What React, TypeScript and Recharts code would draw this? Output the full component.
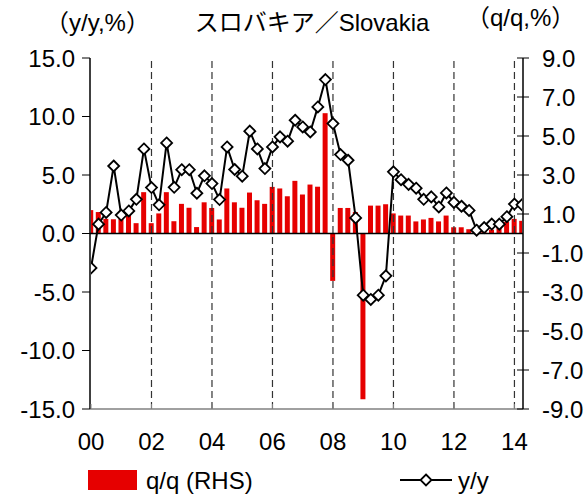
import { Bar, ComposedChart, Line, ReferenceLine, XAxis, YAxis } from "recharts";

// quarterly, 2000Q1 .. 2014Q2
const yearLabels = ["00", "02", "04", "06", "08", "10", "12", "14"];

const qoq = [
  1.2, 1.1, 0.75, 0.73, 0.75, 1.0, 0.53, 2.12, 0.53, 1.03, 2.12, 0.63, 1.52,
  1.32, 0.33, 1.6, 1.31, 0.72, 2.31, 1.6, 1.32, 2.1, 1.71, 1.52, 2.39, 2.31,
  1.91, 2.7, 2.0, 2.51, 2.4, 6.17, -2.43, 1.31, 1.31, 1.1, -8.5, 1.43, 1.43,
  1.5, 1.03, 0.92, 0.92, 0.62, 0.72, 0.8, 0.62, 0.92, 0.32, 0.32, 0.22, 0.05,
  0.15, 0.2, 0.38, 0.6, 0.75, 0.65,
];

const yoy = [
  -2.94, 0.8, 1.8, 5.77, 1.58, 1.93, 2.92, 7.23, 3.93, 2.45, 7.74, 3.95, 5.45,
  5.45, 3.44, 4.93, 4.27, 2.9, 7.4, 5.47, 4.9, 8.75, 7.23, 5.55, 7.4, 8.26,
  7.89, 9.68, 9.11, 8.68, 10.82, 13.16, 9.4, 6.75, 6.26, 1.33, -5.27, -5.64,
  -5.27, -3.62, 5.27, 4.6, 4.2, 3.87, 2.92, 3.13, 2.27, 3.47, 2.66, 2.33, 1.97,
  0.28, 0.51, 0.81, 0.8, 1.44, 2.52, 2.45,
];

const leftTicks = [-15, -10, -5, 0, 5, 10, 15];
const rightTicks = [-9, -7, -5, -3, -1, 1, 3, 5, 7, 9];

const data = qoq.map((v, i) => ({ idx: i, qoq: v, yoy: yoy[i] }));
const yearTicks = yearLabels.map((_, i) => i * 8);

const FONT = "'Liberation Sans', Arial, 'Noto Sans CJK JP', sans-serif";
const RED = "#e60000";

const BottomTick = (props: any) => {
  const { x, y, payload } = props;
  return (
    <g>
      <line x1={x} x2={x} y1={y} y2={y - 5} stroke="#808080" />
      <text x={x} y={y + 41} textAnchor="middle" fontSize={24} fill="#000" fontFamily={FONT}>
        {yearLabels[payload.value / 8]}
      </text>
    </g>
  );
};

const TopTick = (props: any) => {
  const { x, y } = props;
  return <line x1={x} x2={x} y1={y} y2={y + 5} stroke="#808080" />;
};

const LeftTick = (props: any) => {
  const { x, y, payload } = props;
  return (
    <g>
      <line x1={x - 8} x2={x} y1={y} y2={y} stroke="#000" />
      <text x={x - 15} y={y + 8.5} textAnchor="end" fontSize={24} fill="#000" fontFamily={FONT}>
        {payload.value.toFixed(1)}
      </text>
    </g>
  );
};

const RightTick = (props: any) => {
  const { x, y, payload } = props;
  return (
    <g>
      <line x1={x - 6} x2={x + 6} y1={y} y2={y} stroke="#000" />
      <text x={x + 19} y={y + 8.5} textAnchor="start" fontSize={24} fill="#000" fontFamily={FONT}>
        {payload.value.toFixed(1)}
      </text>
    </g>
  );
};

const Diamond = (props: any) => {
  const { cx, cy, index } = props;
  if (cx == null || cy == null) return null;
  const r = 5.5;
  return (
    <polygon
      key={`d-${index}`}
      points={`${cx},${cy - r} ${cx + r},${cy} ${cx},${cy + r} ${cx - r},${cy}`}
      fill="#fff"
      stroke="#000"
      strokeWidth={1.8}
    />
  );
};

export default function App() {
  return (
    <div style={{ position: "absolute", left: 0, top: 0, width: 587, height: 495, background: "#fff" }}>
      <ComposedChart width={587} height={495} data={data} margin={{ top: 58, right: 0, bottom: 0, left: 0 }}>
        <XAxis
          xAxisId="b"
          dataKey="idx"
          type="number"
          domain={[0, 57]}
          ticks={yearTicks}
          interval={0}
          allowDataOverflow
          padding={{ left: 1, right: 1 }}
          height={86}
          axisLine={{ stroke: "#808080", strokeWidth: 1.5 }}
          tickLine={false}
          tickSize={0}
          tickMargin={0}
          tick={<BottomTick />}
        />
        <XAxis
          xAxisId="t"
          orientation="top"
          dataKey="idx"
          type="number"
          domain={[0, 57]}
          ticks={yearTicks}
          interval={0}
          padding={{ left: 1, right: 1 }}
          height={0}
          axisLine={{ stroke: "#808080", strokeWidth: 1.5 }}
          tickLine={false}
          tickSize={0}
          tickMargin={0}
          tick={<TopTick />}
        />
        <YAxis
          yAxisId="l"
          orientation="left"
          width={90}
          domain={[-15, 15]}
          ticks={leftTicks}
          interval={0}
          axisLine={{ stroke: "#000", strokeWidth: 1.5 }}
          tickLine={false}
          tickSize={0}
          tickMargin={0}
          tick={<LeftTick />}
        />
        <YAxis
          yAxisId="r"
          orientation="right"
          width={64}
          domain={[-9, 9]}
          ticks={rightTicks}
          interval={0}
          axisLine={{ stroke: "#000", strokeWidth: 1.5 }}
          tickLine={false}
          tickSize={0}
          tickMargin={0}
          tick={<RightTick />}
        />
        {yearTicks.slice(1).map((t) => (
          <ReferenceLine
            key={`v-${t}`}
            xAxisId="b"
            yAxisId="l"
            x={t}
            stroke="#333"
            strokeWidth={1.2}
            strokeDasharray="7 4"
          />
        ))}
        <Bar
          xAxisId="b"
          yAxisId="r"
          dataKey="qoq"
          fill={RED}
          barSize={5}
          isAnimationActive={false}
        />
        <ReferenceLine xAxisId="b" yAxisId="l" y={0} stroke="#000" strokeWidth={1.5} />
        <Line
          xAxisId="b"
          yAxisId="l"
          type="linear"
          dataKey="yoy"
          stroke="#000"
          strokeWidth={2}
          dot={Diamond}
          activeDot={false}
          isAnimationActive={false}
        />
      </ComposedChart>
      <svg
        width={587}
        height={495}
        style={{ position: "absolute", left: 0, top: 0, pointerEvents: "none" }}
        fontFamily={FONT}
      >
        <text x={45} y={31} fontSize={24} fill="#000">（y/y,%）</text>
        <text x={312} y={31} fontSize={24} fill="#000" textAnchor="middle">スロバキア／Slovakia</text>
        <text x={466} y={26} fontSize={24} fill="#000">（q/q,%）</text>
        <rect x={88} y={470} width={49} height={20} fill={RED} />
        <text x={146} y={489} fontSize={24} fill="#000">q/q (RHS)</text>
        <line x1={400} x2={452} y1={480} y2={480} stroke="#000" strokeWidth={2} />
        <polygon points="426,474.5 431.5,480 426,485.5 420.5,480" fill="#fff" stroke="#000" strokeWidth={1.8} />
        <text x={458} y={489} fontSize={24} fill="#000">y/y</text>
      </svg>
    </div>
  );
}
